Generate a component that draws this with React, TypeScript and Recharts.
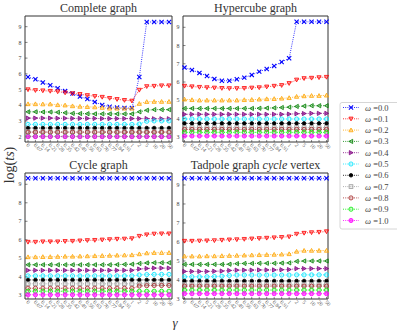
import React from "react";
import { LineChart, Line, XAxis, YAxis } from "recharts";

// γ categories along the x axis (same for all four panels)
const GAMMA = ["0", "0.07", "0.14", "0.21", "0.28", "0.35", "0.42", "0.49", "0.56", "0.63", "0.70", "0.77", "0.84", "0.91", "1", "2", "5", "10", "20", "50"];
const OMEGA = ["0.0", "0.1", "0.2", "0.3", "0.4", "0.5", "0.6", "0.7", "0.8", "0.9", "1.0"];
const COLORS = ["#0000ff", "#ff0000", "#ffa500", "#008000", "#800080", "#00e5ff", "#000000", "#9a9a9a", "#a52a2a", "#00ee00", "#ff00ff"];
const MARKERS = ["x", "tdown", "tup", "tleft", "tright", "circle", "star", "square", "circle", "circle", "dcircle"];

// log(ts) per ω, one row per ω value
const COMPLETE = [
  [5.8, 5.65, 5.45, 5.27, 5.08, 4.9, 4.75, 4.55, 4.4, 4.2, 4.02, 3.9, 3.85, 3.82, 3.82, 5.8, 9.3, 9.3, 9.3, 9.3],
  [5.0, 4.95, 4.93, 4.9, 4.87, 4.8, 4.75, 4.7, 4.63, 4.57, 4.52, 4.45, 4.38, 4.32, 4.28, 4.97, 5.2, 5.22, 5.25, 5.25],
  [4.08, 4.08, 4.07, 4.07, 4.02, 4.0, 3.95, 3.92, 3.9, 3.88, 3.85, 3.8, 3.8, 3.8, 3.8, 4.1, 4.22, 4.23, 4.23, 4.23],
  [3.58, 3.58, 3.57, 3.57, 3.55, 3.52, 3.48, 3.47, 3.46, 3.45, 3.45, 3.45, 3.45, 3.45, 3.45, 3.58, 3.68, 3.72, 3.72, 3.72],
  [3.18, 3.18, 3.18, 3.18, 3.17, 3.17, 3.16, 3.16, 3.16, 3.16, 3.15, 3.15, 3.15, 3.15, 3.15, 3.15, 3.15, 3.14, 3.14, 3.14],
  [2.78, 2.78, 2.78, 2.78, 2.78, 2.78, 2.78, 2.78, 2.78, 2.78, 2.78, 2.78, 2.78, 2.78, 2.78, 2.8, 2.98, 3.0, 3.0, 3.0],
  [2.55, 2.55, 2.55, 2.55, 2.55, 2.55, 2.55, 2.55, 2.55, 2.55, 2.55, 2.55, 2.55, 2.55, 2.55, 2.55, 2.55, 2.55, 2.55, 2.55],
  [2.32, 2.32, 2.32, 2.32, 2.32, 2.32, 2.32, 2.32, 2.32, 2.32, 2.32, 2.32, 2.32, 2.32, 2.32, 2.32, 2.32, 2.32, 2.32, 2.32],
  [2.28, 2.28, 2.28, 2.28, 2.28, 2.28, 2.28, 2.28, 2.28, 2.28, 2.28, 2.28, 2.28, 2.28, 2.28, 2.28, 2.28, 2.28, 2.28, 2.28],
  [2.02, 2.02, 2.02, 2.02, 2.02, 2.02, 2.02, 2.02, 2.02, 2.02, 2.02, 2.02, 2.02, 2.02, 2.02, 2.02, 2.02, 2.02, 2.02, 2.02],
  [2.0, 2.0, 2.0, 2.0, 2.0, 2.0, 2.0, 2.0, 2.0, 2.0, 2.0, 2.0, 2.0, 2.0, 2.0, 2.0, 2.0, 2.0, 2.0, 2.0],
];

const HYPERCUBE = [
  [6.79, 6.66, 6.5, 6.33, 6.17, 6.07, 6.07, 6.15, 6.24, 6.39, 6.57, 6.71, 6.88, 7.1, 7.3, 9.3, 9.3, 9.3, 9.3, 9.3],
  [5.78, 5.75, 5.72, 5.7, 5.68, 5.66, 5.65, 5.65, 5.66, 5.68, 5.7, 5.74, 5.78, 5.82, 5.93, 6.12, 6.2, 6.22, 6.25, 6.27],
  [5.05, 5.02, 5.0, 5.0, 5.0, 5.0, 5.0, 5.0, 5.02, 5.03, 5.05, 5.07, 5.08, 5.1, 5.13, 5.2, 5.23, 5.25, 5.25, 5.27],
  [4.55, 4.55, 4.55, 4.55, 4.55, 4.55, 4.55, 4.55, 4.55, 4.55, 4.56, 4.57, 4.58, 4.6, 4.62, 4.66, 4.68, 4.7, 4.7, 4.7],
  [4.23, 4.23, 4.23, 4.23, 4.23, 4.23, 4.23, 4.23, 4.23, 4.23, 4.23, 4.23, 4.23, 4.23, 4.24, 4.26, 4.27, 4.28, 4.28, 4.28],
  [3.97, 3.97, 3.97, 3.97, 3.97, 3.97, 3.97, 3.97, 3.97, 3.97, 3.97, 3.97, 3.97, 3.97, 3.97, 3.97, 3.97, 3.97, 3.97, 3.97],
  [3.73, 3.73, 3.73, 3.73, 3.73, 3.73, 3.73, 3.73, 3.73, 3.73, 3.73, 3.73, 3.73, 3.73, 3.73, 3.73, 3.73, 3.73, 3.73, 3.73],
  [3.5, 3.5, 3.5, 3.5, 3.5, 3.5, 3.5, 3.5, 3.5, 3.5, 3.5, 3.5, 3.5, 3.5, 3.5, 3.5, 3.5, 3.5, 3.5, 3.5],
  [3.4, 3.4, 3.4, 3.4, 3.4, 3.4, 3.4, 3.4, 3.4, 3.4, 3.4, 3.4, 3.4, 3.4, 3.4, 3.4, 3.4, 3.4, 3.4, 3.4],
  [3.24, 3.24, 3.24, 3.24, 3.24, 3.24, 3.24, 3.24, 3.24, 3.24, 3.24, 3.24, 3.24, 3.24, 3.24, 3.24, 3.24, 3.24, 3.24, 3.24],
  [3.04, 3.04, 3.04, 3.04, 3.04, 3.04, 3.04, 3.04, 3.04, 3.04, 3.04, 3.04, 3.04, 3.04, 3.04, 3.04, 3.04, 3.04, 3.04, 3.04],
];

const CYCLE = [
  [9.33, 9.33, 9.33, 9.33, 9.33, 9.33, 9.33, 9.33, 9.33, 9.33, 9.33, 9.33, 9.33, 9.33, 9.33, 9.33, 9.33, 9.33, 9.33, 9.33],
  [5.88, 5.88, 5.9, 5.9, 5.9, 5.92, 5.93, 5.95, 5.97, 5.98, 6.0, 6.02, 6.04, 6.05, 6.07, 6.2, 6.28, 6.32, 6.33, 6.33],
  [5.07, 5.07, 5.08, 5.08, 5.09, 5.1, 5.1, 5.11, 5.12, 5.13, 5.14, 5.15, 5.16, 5.17, 5.18, 5.23, 5.28, 5.3, 5.3, 5.3],
  [4.65, 4.65, 4.65, 4.65, 4.65, 4.65, 4.65, 4.65, 4.65, 4.65, 4.65, 4.65, 4.66, 4.67, 4.68, 4.72, 4.75, 4.76, 4.76, 4.76],
  [4.35, 4.35, 4.35, 4.35, 4.35, 4.35, 4.35, 4.35, 4.35, 4.35, 4.35, 4.35, 4.35, 4.35, 4.35, 4.42, 4.45, 4.47, 4.47, 4.47],
  [4.05, 4.05, 4.05, 4.05, 4.05, 4.05, 4.05, 4.05, 4.05, 4.05, 4.05, 4.05, 4.05, 4.05, 4.05, 4.1, 4.12, 4.13, 4.13, 4.13],
  [3.83, 3.83, 3.83, 3.83, 3.83, 3.83, 3.83, 3.83, 3.83, 3.83, 3.83, 3.83, 3.83, 3.83, 3.83, 3.83, 3.83, 3.83, 3.83, 3.83],
  [3.62, 3.62, 3.62, 3.62, 3.62, 3.62, 3.62, 3.62, 3.62, 3.62, 3.62, 3.62, 3.62, 3.62, 3.62, 3.62, 3.62, 3.62, 3.62, 3.62],
  [3.38, 3.38, 3.38, 3.38, 3.38, 3.38, 3.38, 3.38, 3.38, 3.38, 3.38, 3.38, 3.38, 3.38, 3.38, 3.5, 3.52, 3.53, 3.53, 3.53],
  [3.22, 3.22, 3.22, 3.22, 3.22, 3.22, 3.22, 3.22, 3.22, 3.22, 3.22, 3.22, 3.22, 3.22, 3.22, 3.22, 3.22, 3.22, 3.22, 3.22],
  [3.03, 3.03, 3.03, 3.03, 3.03, 3.03, 3.03, 3.03, 3.03, 3.03, 3.03, 3.03, 3.03, 3.03, 3.03, 3.03, 3.03, 3.03, 3.03, 3.03],
];

const TADPOLE = [
  [9.35, 9.35, 9.35, 9.35, 9.35, 9.35, 9.35, 9.35, 9.35, 9.35, 9.35, 9.35, 9.35, 9.35, 9.35, 9.35, 9.35, 9.35, 9.35, 9.35],
  [6.05, 6.05, 6.06, 6.07, 6.08, 6.1, 6.12, 6.13, 6.15, 6.17, 6.19, 6.21, 6.23, 6.25, 6.28, 6.42, 6.47, 6.5, 6.52, 6.55],
  [5.25, 5.25, 5.25, 5.26, 5.26, 5.27, 5.28, 5.29, 5.3, 5.31, 5.32, 5.33, 5.34, 5.35, 5.37, 5.5, 5.55, 5.55, 5.55, 5.55],
  [4.82, 4.82, 4.82, 4.82, 4.82, 4.82, 4.83, 4.86, 4.87, 4.87, 4.88, 4.88, 4.88, 4.89, 4.9, 4.98, 5.0, 5.0, 5.0, 5.0],
  [4.45, 4.45, 4.45, 4.45, 4.46, 4.47, 4.5, 4.52, 4.52, 4.52, 4.53, 4.53, 4.53, 4.54, 4.55, 4.6, 4.6, 4.6, 4.6, 4.6],
  [4.17, 4.17, 4.17, 4.17, 4.18, 4.2, 4.24, 4.26, 4.26, 4.26, 4.26, 4.26, 4.26, 4.26, 4.26, 4.27, 4.27, 4.27, 4.27, 4.27],
  [3.95, 3.95, 3.95, 3.95, 3.95, 3.95, 3.95, 3.95, 3.95, 3.95, 3.95, 3.95, 3.95, 3.95, 3.95, 3.95, 3.95, 3.95, 3.95, 3.95],
  [3.77, 3.77, 3.77, 3.77, 3.77, 3.77, 3.77, 3.77, 3.77, 3.77, 3.77, 3.77, 3.77, 3.77, 3.77, 3.77, 3.77, 3.77, 3.77, 3.77],
  [3.68, 3.68, 3.68, 3.68, 3.68, 3.68, 3.68, 3.68, 3.68, 3.68, 3.68, 3.68, 3.68, 3.68, 3.68, 3.68, 3.68, 3.68, 3.68, 3.68],
  [3.47, 3.47, 3.47, 3.47, 3.47, 3.47, 3.47, 3.47, 3.47, 3.47, 3.47, 3.47, 3.47, 3.47, 3.47, 3.47, 3.47, 3.47, 3.47, 3.47],
  [3.28, 3.28, 3.28, 3.28, 3.28, 3.28, 3.28, 3.28, 3.28, 3.28, 3.28, 3.28, 3.28, 3.28, 3.28, 3.28, 3.28, 3.28, 3.28, 3.28],
];

const W = 397;
const H = 332;
const SERIF = "'Liberation Serif', 'DejaVu Serif', serif";
const AXIS = "#333";

function Marker({ kind, color, cx, cy, r = 2.1 }: any) {
  if (cx == null || cy == null) return null;
  const sw = 0.8;
  const soft = { stroke: color, strokeWidth: sw, fill: color, fillOpacity: 0.3 };
  switch (kind) {
    case "x":
      return (
        <g stroke={color} strokeWidth={1.1}>
          <line x1={cx - r} y1={cy - r} x2={cx + r} y2={cy + r} />
          <line x1={cx - r} y1={cy + r} x2={cx + r} y2={cy - r} />
        </g>
      );
    case "tdown":
      return <polygon points={`${cx - r},${cy - r * 0.8} ${cx + r},${cy - r * 0.8} ${cx},${cy + r}`} {...soft} />;
    case "tup":
      return <polygon points={`${cx - r},${cy + r * 0.8} ${cx + r},${cy + r * 0.8} ${cx},${cy - r}`} {...soft} />;
    case "tleft":
      return <polygon points={`${cx + r * 0.8},${cy - r} ${cx + r * 0.8},${cy + r} ${cx - r},${cy}`} {...soft} />;
    case "tright":
      return <polygon points={`${cx - r * 0.8},${cy - r} ${cx - r * 0.8},${cy + r} ${cx + r},${cy}`} {...soft} fillOpacity={0.6} />;
    case "square":
      return <rect x={cx - r * 0.9} y={cy - r * 0.9} width={r * 1.8} height={r * 1.8} {...soft} fillOpacity={0.15} />;
    case "star":
      return <circle cx={cx} cy={cy} r={r * 0.85} fill={color} stroke={color} strokeWidth={sw} />;
    case "dcircle":
      return <circle cx={cx} cy={cy} r={r} {...soft} fillOpacity={0.6} />;
    default:
      return <circle cx={cx} cy={cy} r={r} {...soft} fillOpacity={0.15} />;
  }
}

function XTick({ x, y, payload }: any) {
  const tx = x - 2;
  const ty = y + 0.5;
  return (
    <text x={tx} y={ty} transform={`rotate(45 ${tx} ${ty})`} fontSize={5.5} fontFamily={SERIF} fill="#555" textAnchor="start">
      {payload.value}
    </text>
  );
}

function buildRows(vals: number[][]) {
  return GAMMA.map((g, i) => {
    const row: any = { g };
    vals.forEach((s, k) => (row["w" + k] = s[i]));
    return row;
  });
}

function Panel({ vals, domain, ticks, left, top, right, bottom, pad }: any) {
  const rows = buildRows(vals);
  return (
    <div style={{ position: "absolute", left: 0, top: 0 }}>
      <LineChart width={W} height={H} data={rows} margin={{ top: top - 1, left: left - 1, right: W - right - 1, bottom: H - bottom - 1 }}>
        <XAxis xAxisId="b" dataKey="g" height={1} interval={0} padding={{ left: pad, right: pad }} tickSize={-2} tickMargin={5} tick={<XTick />} axisLine={{ stroke: AXIS }} tickLine={{ stroke: AXIS, strokeWidth: 0.6 }} />
        <XAxis xAxisId="t" orientation="top" dataKey="g" height={1} interval={0} padding={{ left: pad, right: pad }} tickSize={-2} tick={false} axisLine={{ stroke: AXIS }} tickLine={{ stroke: AXIS, strokeWidth: 0.6 }} />
        <YAxis yAxisId="l" type="number" width={1} domain={domain} ticks={ticks} allowDataOverflow tickSize={-2.5} tickMargin={6} tick={{ fontSize: 6, fill: "#444", fontFamily: SERIF }} axisLine={{ stroke: AXIS }} tickLine={{ stroke: AXIS, strokeWidth: 0.6 }} />
        <YAxis yAxisId="r" orientation="right" type="number" width={1} domain={domain} ticks={ticks} allowDataOverflow tickSize={-2.5} tick={false} axisLine={{ stroke: AXIS }} tickLine={{ stroke: AXIS, strokeWidth: 0.6 }} />
        {vals.map((_: number[], k: number) => (
          <Line
            key={k}
            xAxisId="b"
            yAxisId="l"
            dataKey={"w" + k}
            stroke={COLORS[k]}
            strokeWidth={0.8}
            strokeDasharray="1 1.2"
            isAnimationActive={false}
            dot={(p: any) => <Marker key={`${k}-${p.index}`} kind={MARKERS[k]} color={COLORS[k]} cx={p.cx} cy={p.cy} />}
            activeDot={false}
          />
        ))}
      </LineChart>
    </div>
  );
}

function Legend() {
  const x0 = 340;
  const y0 = 102.5;
  return (
    <g>
      <rect x={x0} y={y0} width={70} height={126.5} rx={2} fill="#fff" stroke="#ccc" strokeWidth={0.8} />
      {OMEGA.map((w, k) => {
        const y = y0 + 5 + k * 11.3;
        return (
          <g key={w}>
            <line x1={343} x2={359} y1={y} y2={y} stroke={COLORS[k]} strokeWidth={0.8} strokeDasharray="1 1.2" />
            <Marker kind={MARKERS[k]} color={COLORS[k]} cx={351} cy={y} />
            <text x={365} y={y + 3} fontSize={8.5} fontFamily={SERIF} fill="#444">
              <tspan fontStyle="italic">ω</tspan> =
              {w}
            </text>
          </g>
        );
      })}
    </g>
  );
}

export default function App() {
  return (
    <div style={{ position: "absolute", left: 0, top: 0, width: W, height: H, background: "#fff" }}>
      <Panel vals={COMPLETE} domain={[1.66, 9.68]} ticks={[2, 3, 4, 5, 6, 7, 8, 9]} left={25} top={16} right={172} bottom={142} pad={3} />
      <Panel vals={HYPERCUBE} domain={[2.71, 9.62]} ticks={[3, 4, 5, 6, 7, 8, 9]} left={183} top={16} right={328} bottom={142} pad={1.5} />
      <Panel vals={CYCLE} domain={[2.8, 9.61]} ticks={[3, 4, 5, 6, 7, 8, 9]} left={25} top={173} right={172} bottom={299} pad={3} />
      <Panel vals={TADPOLE} domain={[3.0, 9.63]} ticks={[3, 4, 5, 6, 7, 8, 9]} left={183} top={173} right={328} bottom={299} pad={1.5} />
      <svg width={W} height={H} style={{ position: "absolute", left: 0, top: 0 }}>
        <g fontFamily={SERIF} fill="#333" fontSize={12} textAnchor="middle">
          <text x={98.5} y={11.5}>Complete graph</text>
          <text x={255.5} y={11.5}>Hypercube graph</text>
          <text x={98.5} y={168.5}>Cycle graph</text>
          <text x={255.5} y={168.5}>
            Tadpole graph <tspan fontStyle="italic">cycle</tspan> vertex
          </text>
          <text x={175} y={327} fontSize={13} fontStyle="italic">γ</text>
          <text x={0} y={0} fontSize={14} transform="translate(14 165) rotate(-90)">
            log(<tspan fontStyle="italic">ts</tspan>)
          </text>
        </g>
        <Legend />
      </svg>
    </div>
  );
}
